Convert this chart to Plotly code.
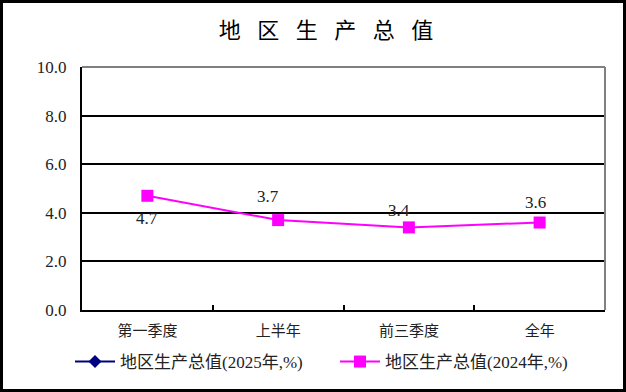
import plotly.graph_objects as go

categories = ["第一季度", "上半年", "前三季度", "全年"]
values_2025 = [None, None, None, None]
values_2024 = [4.7, 3.7, 3.4, 3.6]
y_ticks = [0, 2, 4, 6, 8, 10]

# label offsets (px) for the 2024 data labels
label_dx = [0, -10, -10, -4]
label_dy = [-23, 24, 17, 20]

W, H = 626, 392
L, R, T, B = 82, 21, 67, 82
pw, ph = W - L - R, H - T - B

serif = "Liberation Serif"
cjk = "Liberation Serif, Noto Sans CJK SC"

fig = go.Figure()
fig.add_trace(go.Scatter(
    x=categories, y=values_2025, mode="lines+markers",
    name="地区生产总值(2025年,%)",
    line=dict(color="#000080", width=2),
    marker=dict(symbol="diamond", size=10, color="#000080"),
))
fig.add_trace(go.Scatter(
    x=categories, y=values_2024, mode="lines+markers",
    name="地区生产总值(2024年,%)",
    line=dict(color="#FF00FF", width=2),
    marker=dict(symbol="square", size=12, color="#FF00FF"),
))

for c, v, dx, dy in zip(categories, values_2024, label_dx, label_dy):
    fig.add_annotation(x=c, y=v, text=f"{v:.1f}", showarrow=False,
                       xshift=dx, yshift=dy,
                       font=dict(family=serif, size=17, color="#222"))

shapes = [
    dict(type="rect", xref="paper", yref="paper",
         x0=(1.5 - L) / pw, x1=(W - 1.5 - L) / pw,
         y0=-(B - 1.5) / ph, y1=1 + (T - 1.5) / ph,
         line=dict(color="black", width=3)),
    dict(type="line", xref="paper", yref="paper", x0=1, x1=1, y0=0, y1=1,
         line=dict(color="#808080", width=2)),
    dict(type="line", xref="paper", yref="paper", x0=0, x1=1, y0=1, y1=1,
         line=dict(color="#808080", width=2)),
]

sp = "\u2002\u2005"
fig.update_layout(
    width=W, height=H,
    margin=dict(l=L, r=R, t=T, b=B, autoexpand=False),
    paper_bgcolor="white", plot_bgcolor="white",
    title=dict(text=sp.join("地区生产总值"), x=326 / W, xanchor="center",
               xref="container",
               y=1 - 30 / H, yanchor="middle",
               font=dict(family="Noto Sans CJK SC", size=22, color="black")),
    xaxis=dict(range=[-0.5, 3.5], showgrid=False, showline=True,
               linecolor="black", linewidth=2,
               ticks="inside", tickson="boundaries", ticklen=5,
               tickcolor="black", tickwidth=2,
               ticklabelstandoff=6,
               tickfont=dict(family=cjk, size=15, color="#222"),
               fixedrange=True),
    yaxis=dict(range=[0, 10], tickvals=y_ticks, tickformat=".1f",
               showgrid=True, gridcolor="black", gridwidth=2,
               showline=True, linecolor="black", linewidth=2,
               ticks="", zeroline=False, ticklabelstandoff=10,
               tickfont=dict(family=serif, size=17, color="#222")),
    showlegend=True,
    legend=dict(orientation="h", x=(70 - L) / pw, xanchor="left",
                y=-(362 - 310) / ph, yanchor="middle",
                bgcolor="rgba(0,0,0,0)",
                font=dict(family=cjk, size=17, color="#222"),
                entrywidth=210, entrywidthmode="pixels",
                itemwidth=40),
    shapes=shapes,
)

fig.write_html("out.html", post_script="document.body.style.margin='0';",
               config={"displayModeBar": False})
